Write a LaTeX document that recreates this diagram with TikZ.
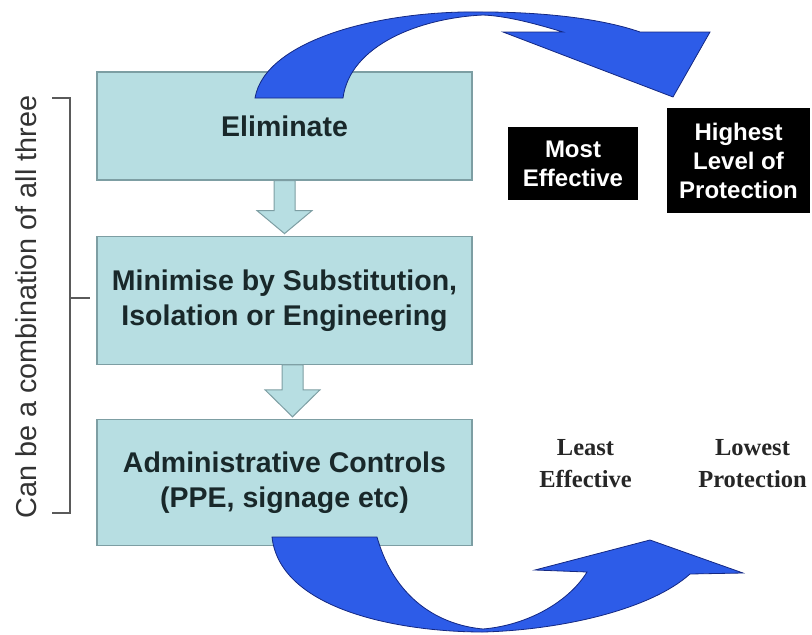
\documentclass[tikz,border=0pt]{standalone}
\usepackage{fontspec}
\setmainfont{Liberation Sans}
\newfontfamily\serifface{Liberation Serif}
\usetikzlibrary{calc,positioning}
\tikzset{>=latex}
\definecolor{boxfill}{RGB}{183,222,226}
\definecolor{boxline}{RGB}{125,158,163}
\definecolor{boxtext}{RGB}{25,40,42}
\definecolor{arrowblue}{RGB}{45,92,232}
\definecolor{arrowedge}{RGB}{20,40,130}
\definecolor{bracegray}{RGB}{90,90,90}
\tikzset{
  stagebox/.style={draw=boxline, line width=1.2pt, fill=boxfill, text=boxtext,
    minimum width=375pt, align=center, font=\bfseries\fontsize{28.5}{35}\selectfont},
  flowarrow/.style={draw=boxline, line width=1pt, fill=boxfill},
  bigarrow/.style={fill=arrowblue, draw=arrowedge, line width=0.8pt},
  blacklabel/.style={fill=black, text=white, align=center, inner sep=0pt,
    font=\bfseries\fontsize{24}{29}\selectfont},
  plainlabel/.style={align=center, text=black!85,
    font=\serifface\bfseries\fontsize{24.5}{32}\selectfont},
}

\begin{document}
\begin{tikzpicture}[x=1pt,y=-1pt]
  \useasboundingbox (0,0) rectangle (812,635);
  % the three stages
  \node[stagebox, minimum height=108pt] (elim) at (284.5,126) {Eliminate};
  \node[stagebox, minimum height=128pt, below=55pt of elim] (minim) {Minimise by Substitution,\\Isolation or Engineering};
  \node[stagebox, minimum height=126pt, below=54pt of minim] (admin) {Administrative Controls\\(PPE, signage etc)};
  % block arrows between stages
  \draw[flowarrow] ($(elim.south)+(-10.5,0)$) -- ++(0,30) -- ++(-17,0) -- ++(27.5,23)
    -- ++(27.5,-23) -- ++(-17,0) -- ++(0,-30) -- cycle;
  \draw[flowarrow] ($(minim.south)+(-2.5,0)$) -- ++(0,25) -- ++(-17,0) -- ++(27.5,27)
    -- ++(27.5,-27) -- ++(-17,0) -- ++(0,-25) -- cycle;
  % curved arrows
  \draw[bigarrow] (255,98) .. controls (265,40) and (380,10) .. (483,12)
    .. controls (540,12) and (600,18) .. (640,32) -- (710,32) -- (673,97) -- (503,32) -- (563,32)
    .. controls (530,22) and (505,16) .. (483,15)
    .. controls (420,18) and (350,45) .. (343,98) -- cycle;
  \draw[bigarrow] (272,537) .. controls (280,610) and (400,632) .. (483,632)
    .. controls (560,630) and (650,610) .. (690,574) -- (743,573) -- (650,540) -- (535,570) -- (587,572)
    .. controls (570,600) and (530,625) .. (483,629)
    .. controls (440,625) and (395,600) .. (377,537) -- cycle;
  % bracket
  \draw[bracegray, line width=1.3pt] (52,98) -- (70,98) -- (70,513) -- (52,513);
  \draw[bracegray, line width=1.3pt] (70,298) -- (90,298);
  \node[rotate=90, text=black!80, font=\fontsize{28.8}{30}\selectfont] (combo) at (26.5,307) {Can be a combination of all three};
  % effectiveness labels
  \node[blacklabel, minimum width=130pt, minimum height=73pt] (most) at (573,163.5) {Most\\Effective};
  \node[blacklabel, minimum width=143pt, minimum height=105pt] (highest) at (738.5,160.5) {Highest\\Level of\\Protection};
  \node[plainlabel] (least) at (585.5,464) {Least\\Effective};
  \node[plainlabel] (lowest) at (752.5,464) {Lowest\\Protection};
\end{tikzpicture}
\end{document}
